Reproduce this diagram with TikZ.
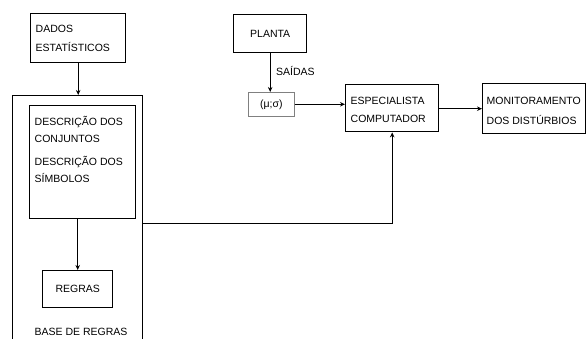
\documentclass[tikz,border=0pt]{standalone}
\usepackage{fontspec}
\setmainfont{Liberation Sans}
\usetikzlibrary{arrows.meta}
\begin{document}
\begin{tikzpicture}[x=1pt,y=-1pt,
  box/.style={draw, line width=1.4pt, anchor=north west, inner sep=0pt, font=\fontsize{10.5}{19}\selectfont},
  lbox/.style={box, align=left, inner xsep=5pt},
  cbox/.style={box, align=center},
  arr/.style={line width=1pt, -{Stealth[length=5pt,width=4.5pt]}},
  lbl/.style={font=\fontsize{10.5}{13}\selectfont, inner sep=0pt}]
\clip (0,0) rectangle (587,339);
\useasboundingbox (0,0) rectangle (587,339);
% base de regras (open bottom, clipped)
\node[box, minimum width=130pt, minimum height=256pt] (base) at (12,95) {};
\node[lbox, minimum width=95pt, minimum height=49pt, text width=85pt] (dados) at (30,13) {DADOS\\ESTATÍSTICOS};
\node[box, minimum width=106pt, minimum height=113pt, inner xsep=5pt] (desc) at (29,105)
  {\parbox[c][113pt][t]{96pt}{\fontsize{10.5}{17}\selectfont\vspace{11pt}DESCRIÇÃO DOS\\CONJUNTOS\\[6pt]DESCRIÇÃO DOS\\SÍMBOLOS}};
\node[cbox, minimum width=70pt, minimum height=37pt] (regras) at (42,270) {REGRAS};
\node[lbl] (baselbl) at (81,332) {BASE DE REGRAS};
\node[cbox, minimum width=73pt, minimum height=38pt] (planta) at (233,14) {PLANTA};
\node[box, draw=gray, line width=0.6pt, minimum width=46pt, minimum height=24pt] (mu) at (248,92) {(μ;σ)};
\node[lbl, anchor=west] (saidas) at (276,71) {SAÍDAS};
\node[box, minimum width=93pt, minimum height=47pt, inner xsep=5pt] (esp) at (345,84)
  {\parbox[c][47pt][t]{83pt}{\fontsize{10.5}{18}\selectfont\vspace{12pt}ESPECIALISTA\\COMPUTADOR}};
\node[box, minimum width=103pt, minimum height=50pt, inner xsep=4pt] (mon) at (482,83)
  {\parbox[c][50pt][t]{95pt}{\fontsize{10.5}{20}\selectfont\vspace{13pt}MONITORAMENTO\\DOS DISTÚRBIOS}};
% connectors
\draw[arr] (dados.south) -- (dados.south |- base.north);
\draw[arr] (desc.south -| regras.north) -- (regras.north);
\draw[arr] (planta.south) -- (planta.south |- mu.north);
\draw[arr] (mu.east) -- (mu.east -| esp.west);
\draw[arr] (esp.east |- mon.west) -- (mon.west);
\draw[arr] (base.east) -| (esp.south);
\end{tikzpicture}
\end{document}
